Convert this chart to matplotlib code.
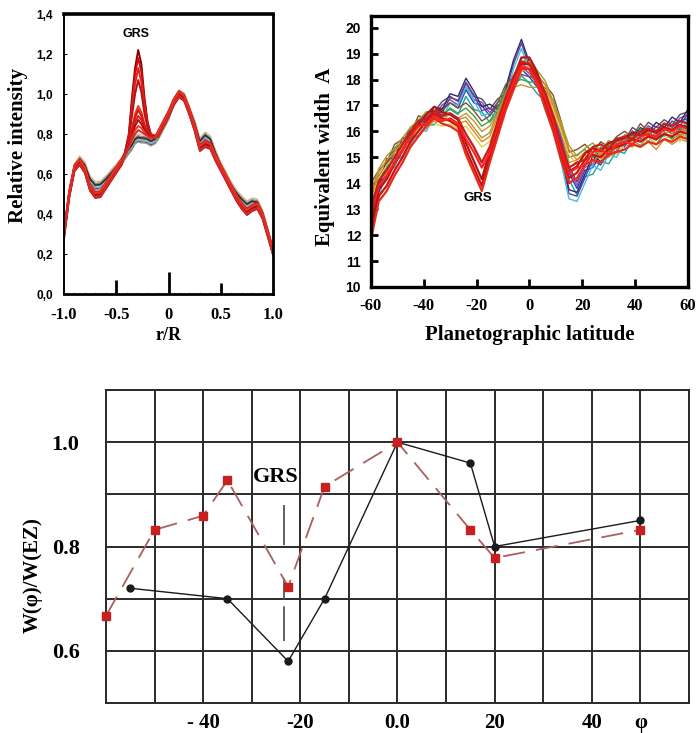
import numpy as np
import matplotlib
matplotlib.use('Agg')
import matplotlib.pyplot as plt

plt.rcParams['lines.scale_dashes'] = False
SERIF = 'Liberation Serif'
SANS = 'Liberation Sans'

# ---------------- top left: relative intensity vs r/R ----------------
r = [-1.0, -0.95, -0.9, -0.85, -0.8, -0.75, -0.7, -0.65, -0.6, -0.55, -0.5,
     -0.45, -0.42, -0.38, -0.35, -0.32, -0.29, -0.26, -0.23, -0.2, -0.17, -0.13,
     -0.1, -0.05, 0.0, 0.05, 0.1, 0.15, 0.2, 0.25, 0.3, 0.35, 0.4, 0.45, 0.5,
     0.55, 0.6, 0.65, 0.7, 0.75, 0.8, 0.85, 0.9, 0.95, 1.0]
gray_profile = [0.28, 0.49, 0.63, 0.67, 0.64, 0.57, 0.54, 0.545, 0.57, 0.60, 0.63,
                0.66, 0.69, 0.72, 0.74, 0.77, 0.78, 0.775, 0.775, 0.77, 0.76, 0.77,
                0.79, 0.84, 0.89, 0.96, 1.0, 0.985, 0.92, 0.85, 0.76, 0.79, 0.77, 0.70, 0.64,
                0.59, 0.54, 0.50, 0.47, 0.445, 0.46, 0.455, 0.40, 0.31, 0.21]
red_profile = [0.30, 0.50, 0.63, 0.66, 0.62, 0.53, 0.495, 0.50, 0.54, 0.58, 0.62,
               0.66, 0.69, 0.72, 0.75, 0.77, 0.78, 0.78, 0.78, 0.78, 0.79, 0.79,
               0.80, 0.85, 0.90, 0.96, 1.0, 0.98, 0.91, 0.83, 0.73, 0.75, 0.74, 0.68, 0.63,
               0.58, 0.53, 0.48, 0.44, 0.41, 0.43, 0.44, 0.39, 0.30, 0.21]
gray_colors = ['#5a5a5a', '#3d4a66', '#8a8a8a', '#c9b48a', '#7fa6c8', '#6b4a3a', '#9a9a7a', '#2f2f2f']
gray_offsets = [0.0, -0.015, 0.012, 0.02, -0.008, 0.006, -0.02, 0.004]

# GRS bump, r = -0.42 ... -0.13
grs_rows = [
    [0.70, 0.80, 0.98, 1.13, 1.22, 1.15, 0.98, 0.86, 0.80, 0.79],
    [0.70, 0.79, 0.95, 1.10, 1.18, 1.11, 0.96, 0.85, 0.80, 0.79],
    [0.70, 0.78, 0.92, 1.05, 1.13, 1.06, 0.93, 0.84, 0.80, 0.79],
    [0.70, 0.77, 0.89, 1.00, 1.07, 1.01, 0.90, 0.83, 0.79, 0.79],
    [0.70, 0.75, 0.83, 0.90, 0.94, 0.91, 0.85, 0.81, 0.79, 0.78],
    [0.70, 0.75, 0.82, 0.88, 0.92, 0.89, 0.84, 0.81, 0.79, 0.78],
    [0.69, 0.74, 0.80, 0.86, 0.89, 0.87, 0.83, 0.80, 0.78, 0.78],
    [0.69, 0.74, 0.79, 0.84, 0.87, 0.85, 0.82, 0.80, 0.78, 0.78],
    [0.69, 0.73, 0.78, 0.82, 0.84, 0.83, 0.81, 0.79, 0.78, 0.78],
    [0.69, 0.73, 0.77, 0.80, 0.82, 0.81, 0.80, 0.79, 0.78, 0.78],
]
red_colors = ['#8b0000', '#d01010', '#e82020', '#b01515', '#ff2a1a',
              '#c41e1e', '#e01818', '#a51010', '#f03020', '#d42a2a']
red_offsets = [0.0, -0.01, 0.01, -0.015, 0.005, 0.015, -0.005, 0.0, 0.01, -0.01]

# ---------------- top right: equivalent width vs latitude ----------------
lat = list(range(-60, 61, 3))
ew_profiles = {
    'A': [13.2, 14.0, 14.5, 15.1, 15.3, 15.9, 16.1, 16.5, 16.5, 16.9, 17.1, 16.9, 17.6, 17.1,
          17.0, 16.6, 17.0, 17.2, 17.9, 18.4, 18.1, 17.7, 17.4, 16.5, 15.7, 14.4, 13.8, 14.5,
          14.6, 15.1, 15.0, 15.5, 15.4, 15.9, 15.7, 16.1, 15.9, 16.2, 16.0, 16.4, 16.5],
    'B': [12.6, 13.6, 14.8, 14.8, 15.6, 15.6, 16.3, 16.2, 16.8, 16.7, 17.3, 17.2, 17.9, 17.4,
          16.8, 16.9, 16.7, 17.5, 18.6, 19.4, 18.5, 18.0, 17.0, 16.2, 15.0, 13.6, 13.5, 14.2,
          14.9, 14.7, 15.3, 15.2, 15.7, 15.6, 16.0, 15.8, 16.2, 16.0, 16.4, 16.2, 16.7],
    'C': [13.8, 14.3, 14.6, 15.3, 15.5, 15.7, 16.4, 16.3, 16.6, 16.6, 16.9, 16.7, 16.9, 16.6,
          16.2, 16.4, 16.9, 17.6, 17.9, 18.0, 17.9, 17.9, 17.6, 17.2, 16.2, 15.0, 15.1, 15.3,
          15.0, 15.4, 15.2, 15.6, 15.8, 15.6, 16.1, 15.8, 15.5, 15.9, 15.7, 15.9, 15.8],
    'D': [13.5, 14.4, 14.9, 15.2, 15.6, 16.0, 16.3, 16.6, 16.5, 16.4, 16.5, 16.3, 16.4, 16.0,
          15.6, 15.8, 16.6, 17.3, 18.0, 18.5, 18.7, 18.2, 17.8, 17.0, 16.2, 15.3, 14.9, 15.2,
          15.4, 15.1, 15.5, 15.3, 15.7, 15.8, 15.6, 16.0, 15.7, 15.9, 16.1, 15.8, 16.2],
    'R1': [12.0, 13.5, 13.9, 14.5, 15.0, 15.6, 16.0, 16.4, 16.7, 16.5, 16.4, 16.2, 15.3, 14.6,
           13.9, 15.0, 16.0, 17.0, 17.8, 18.6, 18.6, 18.0, 17.1, 16.2, 15.1, 14.2, 14.4, 14.9,
           15.1, 15.0, 15.3, 15.4, 15.5, 15.7, 15.6, 15.8, 15.7, 15.9, 15.8, 16.0, 15.9],
    'R2': [12.8, 13.9, 14.3, 14.8, 15.3, 15.8, 16.2, 16.3, 16.6, 16.4, 16.5, 16.3, 15.7, 15.2,
           14.6, 15.2, 16.2, 17.1, 17.9, 18.5, 18.4, 17.9, 17.3, 16.4, 15.3, 14.4, 14.6, 14.7,
           15.2, 15.3, 15.1, 15.5, 15.6, 15.5, 15.8, 15.9, 15.8, 16.1, 16.0, 16.2, 16.1],
}
ew_curves = [
    ('A', 0.0, '#1f3fbf'), ('A', 0.25, '#505050'), ('A', -0.25, '#20a0a0'), ('A', 0.12, '#9040c0'),
    ('B', 0.0, '#6a3d9a'), ('B', -0.2, '#40c0e0'), ('B', 0.15, '#2a2a6a'),
    ('C', 0.0, '#40a040'), ('C', -0.2, '#d09030'), ('C', 0.2, '#805030'),
    ('D', 0.0, '#f08020'), ('D', -0.2, '#e0d040'), ('D', 0.15, '#a0a030'),
    ('R1', 0.0, '#d01010'), ('R1', -0.2, '#e82a1a'), ('R1', 0.25, '#b01515'),
    ('R2', 0.0, '#ff2020'), ('R2', 0.2, '#c41e1e'),
]

# ---------------- bottom: W(phi)/W(EZ) ----------------
phi_black = [-55, -35, -22.5, -15, 0, 15, 20, 50]
w_black = [0.72, 0.70, 0.58, 0.70, 1.0, 0.96, 0.80, 0.85]
phi_red = [-60, -50, -40, -35, -22.5, -15, 0, 15, 20, 50]
w_red = [0.667, 0.832, 0.859, 0.927, 0.723, 0.915, 1.0, 0.832, 0.778, 0.832]
bot_xticks = list(range(-60, 61, 10))
bot_xlabels = ['', '', '- 40', '', '-20', '', '0.0', '', '20', '', '40', 'φ', '']
bot_yticks = [0.5, 0.6, 0.7, 0.8, 0.9, 1.0, 1.1]
bot_ylabels = ['', '0.6', '', '0.8', '', '1.0', '']

fig = plt.figure(figsize=(6.97, 7.33), dpi=100)

# ---- top left ----
ax1 = fig.add_axes([0.0918, 0.5989, 0.300, 0.382])
start = r.index(-0.42)
for off, col in zip(gray_offsets, gray_colors):
    ax1.plot(r, np.array(gray_profile) + off, color=col, lw=0.9)
for row, off, col in zip(grs_rows, red_offsets, red_colors):
    y = np.array(red_profile) + off
    y[start:start + len(row)] = row
    ax1.plot(r, y, color=col, lw=1.4)
ax1.set_xlim(-1, 1)
ax1.set_ylim(0, 1.4)
ax1.set_xticks([-1.0, -0.5, 0, 0.5, 1.0])
ax1.set_xticklabels(['-1.0', '-0.5', '0', '0.5', '1.0'], fontfamily=SERIF,
                    fontweight='bold', fontsize=12)
ax1.set_xticks(np.arange(-0.9, 1.0, 0.1), minor=True)
ax1.set_yticks(np.arange(0, 1.41, 0.2))
ax1.set_yticklabels(['0,0', '0,2', '0,4', '0,6', '0,8', '1,0', '1,2', '1,4'],
                    fontfamily=SANS, fontweight='bold', fontsize=8.5)
ax1.tick_params(axis='x', direction='in', length=10, width=2, pad=9)
ax1.tick_params(axis='x', which='minor', direction='in', length=1.5, width=0.6, color='#999')
ax1.tick_params(axis='y', direction='in', length=2, width=0.8, pad=8)
for i, ln in enumerate([0, 10, 16, 8, 0]):
    ax1.xaxis.get_major_ticks()[i].tick1line.set_markersize(ln)
ax1.spines['top'].set_linewidth(2.6)
ax1.spines['right'].set_linewidth(2.0)
ax1.spines['left'].set_linewidth(1.4)
ax1.spines['bottom'].set_linewidth(2.0)
ax1.set_ylabel('Relative intensity', fontfamily=SERIF, fontweight='bold', fontsize=15)
ax1.yaxis.set_label_coords(-0.172, 0.53)
ax1.set_xlabel('r/R', fontfamily=SERIF, fontweight='bold', fontsize=13)
ax1.xaxis.set_label_coords(0.5, -0.118)
ax1.text(-0.31, 1.30, 'GRS', fontfamily=SANS, fontweight='bold', fontsize=9,
         ha='center', va='center')

# ---- top right ----
ax2 = fig.add_axes([0.532, 0.6085, 0.455, 0.3697])
for name, off, col in ew_curves:
    lw = 1.6 if name.startswith('R') else 1.0
    ax2.plot(lat, np.array(ew_profiles[name]) + off, color=col, lw=lw)
ax2.set_xlim(-60, 60)
ax2.set_ylim(10, 20.45)
ax2.set_xticks(range(-60, 61, 20))
ax2.set_xticklabels(['-60', '-40', '-20', '0', '20', '40', '60'], fontfamily=SERIF,
                    fontweight='bold', fontsize=12)
ax2.set_yticks(range(10, 21))
ax2.set_yticklabels([str(v) for v in range(10, 21)], fontfamily=SANS,
                    fontweight='bold', fontsize=10)
ax2.tick_params(axis='x', direction='in', length=6, width=2, pad=8)
ax2.tick_params(axis='y', direction='in', length=5, width=2, pad=7)
for sp in ax2.spines.values():
    sp.set_linewidth(2.4)
ax2.set_ylabel('Equivalent width  A', fontfamily=SERIF, fontweight='bold', fontsize=15)
ax2.yaxis.set_label_coords(-0.1125, 0.48)
ax2.set_xlabel('Planetographic latitude', fontfamily=SERIF, fontweight='bold', fontsize=15)
ax2.xaxis.set_label_coords(0.5, -0.14)
ax2.text(-19.6, 13.45, 'GRS', fontfamily=SANS, fontweight='bold', fontsize=9.5,
         ha='center', va='center')

# ---- bottom ----
ax3 = fig.add_axes([0.152, 0.0409, 0.8365, 0.427])
ax3.set_xlim(-60, 60)
ax3.set_ylim(0.5, 1.1)
ax3.set_xticks(bot_xticks)
ax3.set_xticklabels(bot_xlabels, fontfamily=SERIF, fontweight='bold', fontsize=15)
ax3.set_yticks(bot_yticks)
ax3.set_yticklabels(bot_ylabels, fontfamily=SERIF, fontweight='bold', fontsize=16)
ax3.tick_params(axis='x', length=0, pad=7)
ax3.tick_params(axis='y', length=0, pad=19)
ax3.grid(True, color='#2a2a2a', lw=1.4)
ax3.set_axisbelow(True)
for sp in ax3.spines.values():
    sp.set_linewidth(1.4)
    sp.set_color('#2a2a2a')
ax3.vlines(-23.3, 0.618, 0.879, color='#555555', lw=1.3,
           linestyle=(0, (25, 5, 15, 24, 30, 5)))
ax3.plot(phi_black, w_black, color='#1a1a1a', lw=1.0, marker='o', ms=5, zorder=3)
ax3.plot(phi_red, w_red, color='#a86060', lw=1.3, linestyle=(0, (16, 8)),
         marker='s', ms=6, mfc='#c8201f', mec='#c8201f', zorder=4, clip_on=False)
ax3.text(-25, 0.933, 'GRS', fontfamily=SERIF, fontweight='bold', fontsize=16,
         ha='center', va='center')
ax3.set_ylabel('W(φ)/W(EZ)', fontfamily=SERIF, fontweight='bold', fontsize=15)
ax3.yaxis.set_label_coords(-0.108, 0.409)

fig.savefig('out.png', dpi=100)
